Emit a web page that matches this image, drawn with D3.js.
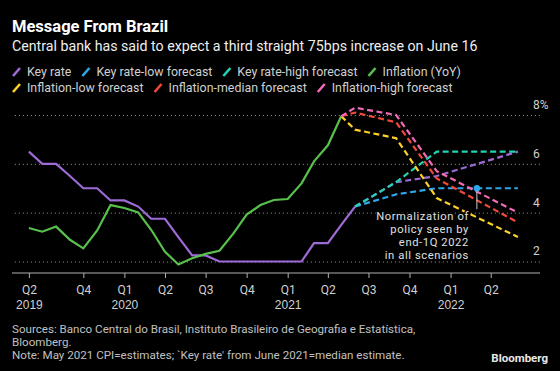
<!DOCTYPE html>
<html>
<head>
<meta charset="utf-8">
<script src="https://cdn.jsdelivr.net/npm/d3@7"></script>
<style>
  body { margin: 0; background: #000; }
  svg { display: block; background: #000; font-family: Roboto, "Noto Sans", sans-serif; }
</style>
</head>
<body>
<svg width="560" height="371"></svg>
<script>
// monthly history, Jun 2019 .. Jun 2021 (key rate), Jun 2019 .. May 2021 (inflation)
const histStart = new Date(2019, 5, 1);
const keyRate = [6.5, 6.0, 6.0, 5.5, 5.0, 5.0, 4.5, 4.5, 4.25, 3.75, 3.75, 3.0, 2.25,
                 2.25, 2.0, 2.0, 2.0, 2.0, 2.0, 2.0, 2.0, 2.75, 2.75, 3.5, 4.25];
const inflation = [3.37, 3.22, 3.43, 2.89, 2.54, 3.27, 4.31, 4.19, 4.01, 3.30, 2.40, 1.88,
                   2.13, 2.31, 2.44, 3.14, 3.92, 4.31, 4.52, 4.56, 5.20, 6.10, 6.76, 7.95];

// forecasts
const rateFcDates = ["2021-06", "2021-09", "2021-12", "2022-06"];
const rateLow = [4.25, 4.75, 5.0, 5.0];
const rateMedian = [4.25, 5.25, 5.5, 6.5];
const rateHigh = [4.25, 5.25, 6.5, 6.5];

const inflFcDates = ["2021-05", "2021-06", "2021-09", "2021-12", "2022-06"];
const inflLow = [7.95, 7.4, 7.05, 4.6, 3.0];
const inflMedian = [7.95, 8.1, 7.7, 5.4, 3.6];
const inflHigh = [7.95, 8.3, 8.0, 5.7, 4.0];

const markerPoint = {date: "2022-03", value: 5.0};

const xTicks = ["2019-06", "2019-10", "2020-01", "2020-04", "2020-07", "2020-10",
                "2021-01", "2021-04", "2021-07", "2021-10", "2022-01", "2022-04"];
const xTickLabels = ["Q2", "Q4", "Q1", "Q2", "Q3", "Q4", "Q1", "Q2", "Q3", "Q4", "Q1", "Q2"];
const yearLabels = ["2019", "", "2020", "", "", "", "2021", "", "", "", "2022", ""];
const yTicks = [2, 4, 6, 8];

const legendRows = [
  [["Key rate", "#9e6bd6"], ["Key rate-low forecast", "#2ea7e8"],
   ["Key rate-high forecast", "#22d2b4"], ["Inflation (YoY)", "#58c04c"]],
  [["Inflation-low forecast", "#fdd128"], ["Inflation-median forecast", "#f04a3a"],
   ["Inflation-high forecast", "#f06cb6"]]
];

const svg = d3.select("svg");
const parse = d3.timeParse("%Y-%m");
const monthly = (start, arr) => arr.map((v, i) => ({date: d3.timeMonth.offset(start, i), value: v}));
const paired = (dates, arr) => arr.map((v, i) => ({date: parse(dates[i]), value: v}));

const x = d3.scaleTime()
  .domain([new Date(2019, 5, 1), new Date(2022, 6, 20)])
  .range([28.9, 539.8]);
const y = d3.scaleLinear().domain([2, 8]).range([261.5, 115]);

// titles
svg.append("text").attr("x", 12).attr("y", 32)
  .attr("fill", "#fff").attr("font-weight", "bold").attr("font-size", 16.5)
  .text("Message From Brazil");
svg.append("text").attr("x", 12).attr("y", 51)
  .attr("fill", "#eee").attr("font-size", 14.2)
  .text("Central bank has said to expect a third straight 75bps increase on June 16");

// legend
legendRows.forEach((row, r) => {
  let lx = 12;
  const ly = 76 + r * 16;
  row.forEach(([name, color]) => {
    svg.append("line")
      .attr("x1", lx + 1).attr("y1", ly)
      .attr("x2", lx + 8).attr("y2", ly - 8)
      .attr("stroke", color).attr("stroke-width", 2.6);
    const t = svg.append("text").attr("x", lx + 15).attr("y", ly)
      .attr("fill", "#d0d0d0").attr("font-size", 12.4).text(name);
    lx += 15 + t.node().getComputedTextLength() + 10;
  });
});

// y grid + labels
const yAxis = svg.append("g").attr("transform", "translate(540,0)")
  .call(d3.axisRight(y).tickValues(yTicks).tickSize(-528)
    .tickFormat(d => d === 8 ? "8%" : d));
yAxis.select(".domain").remove();
yAxis.selectAll("line").attr("stroke", "#808080").attr("stroke-dasharray", "1.2,2.8");
yAxis.selectAll("text").attr("x", -7).attr("dy", "-0.55em")
  .attr("text-anchor", "start").attr("fill", "#d0d0d0")
  .attr("font-size", 12).attr("font-family", "Roboto, sans-serif");

// x axis
const xAxis = svg.append("g").attr("transform", "translate(0,273)")
  .call(d3.axisBottom(x).tickValues(xTicks.map(parse)).tickSize(5)
    .tickFormat((d, i) => xTickLabels[i]));
xAxis.select(".domain").remove();
xAxis.append("line").attr("x1", 12).attr("x2", 540)
  .attr("stroke", "#b0b0b0");
xAxis.selectAll(".tick line").attr("stroke", "#b0b0b0");
xAxis.selectAll(".tick text").attr("fill", "#d0d0d0").attr("font-size", 12)
  .attr("font-family", "Roboto, sans-serif").attr("y", 12);
xAxis.selectAll(".tick").append("text")
  .attr("y", 27).attr("dy", "0.71em").attr("text-anchor", "middle")
  .attr("fill", "#d0d0d0").attr("font-size", 12)
  .text((d, i) => yearLabels[i]);

// lines
const line = d3.line().x(d => x(d.date)).y(d => y(d.value));
const series = [
  [monthly(histStart, keyRate), "#9e6bd6", null],
  [paired(rateFcDates, rateMedian), "#9e6bd6", "6,3.5"],
  [paired(rateFcDates, rateLow), "#2ea7e8", "6,3.5"],
  [paired(rateFcDates, rateHigh), "#22d2b4", "6,3.5"],
  [monthly(histStart, inflation), "#58c04c", null],
  [paired(inflFcDates, inflLow), "#fdd128", "6,3.5"],
  [paired(inflFcDates, inflMedian), "#f04a3a", "6,3.5"],
  [paired(inflFcDates, inflHigh), "#f06cb6", "6,3.5"]
];
series.forEach(([data, color, dash]) => {
  svg.append("path")
    .attr("d", line(data))
    .attr("fill", "none")
    .attr("stroke", color)
    .attr("stroke-width", 2.2)
    .attr("stroke-dasharray", dash);
});

// annotation
const mx = x(parse(markerPoint.date));
const my = y(markerPoint.value);
svg.append("line").attr("x1", mx).attr("x2", mx).attr("y1", my).attr("y2", my + 21)
  .attr("stroke", "#ccc").attr("stroke-width", 1);
svg.append("circle").attr("cx", mx).attr("cy", my).attr("r", 3.2).attr("fill", "#2ea7e8");
const note = ["Normalization of", "policy seen by", "end-1Q 2022", "in all scenarios"];
svg.selectAll(".note").data(note).join("text")
  .attr("class", "note")
  .attr("x", mx - 8).attr("y", (d, i) => 219.5 + i * 13.3)
  .attr("text-anchor", "end").attr("fill", "#e0e0e0")
  .attr("font-size", 11.2).attr("letter-spacing", 0.6)
  .attr("stroke", "#000").attr("stroke-width", 3).attr("paint-order", "stroke")
  .text(d => d);

// footer
const foot = ["Sources: Banco Central do Brasil, Instituto Brasileiro de Geografia e Estatística,",
              "Bloomberg.",
              "Note: May 2021 CPI=estimates; `Key rate' from June 2021=median estimate."];
svg.selectAll(".foot").data(foot).join("text")
  .attr("class", "foot")
  .attr("fill", "#c0c0c0").attr("font-size", 11.6)
  .attr("x", 12).attr("y", (d, i) => 333 + i * 13).text(d => d);
svg.append("text").attr("x", 548).attr("y", 362).attr("text-anchor", "end")
  .attr("fill", "#e8e8e8").attr("font-weight", "bold").attr("font-size", 11.5)
  .text("Bloomberg");
</script>
</body>
</html>
